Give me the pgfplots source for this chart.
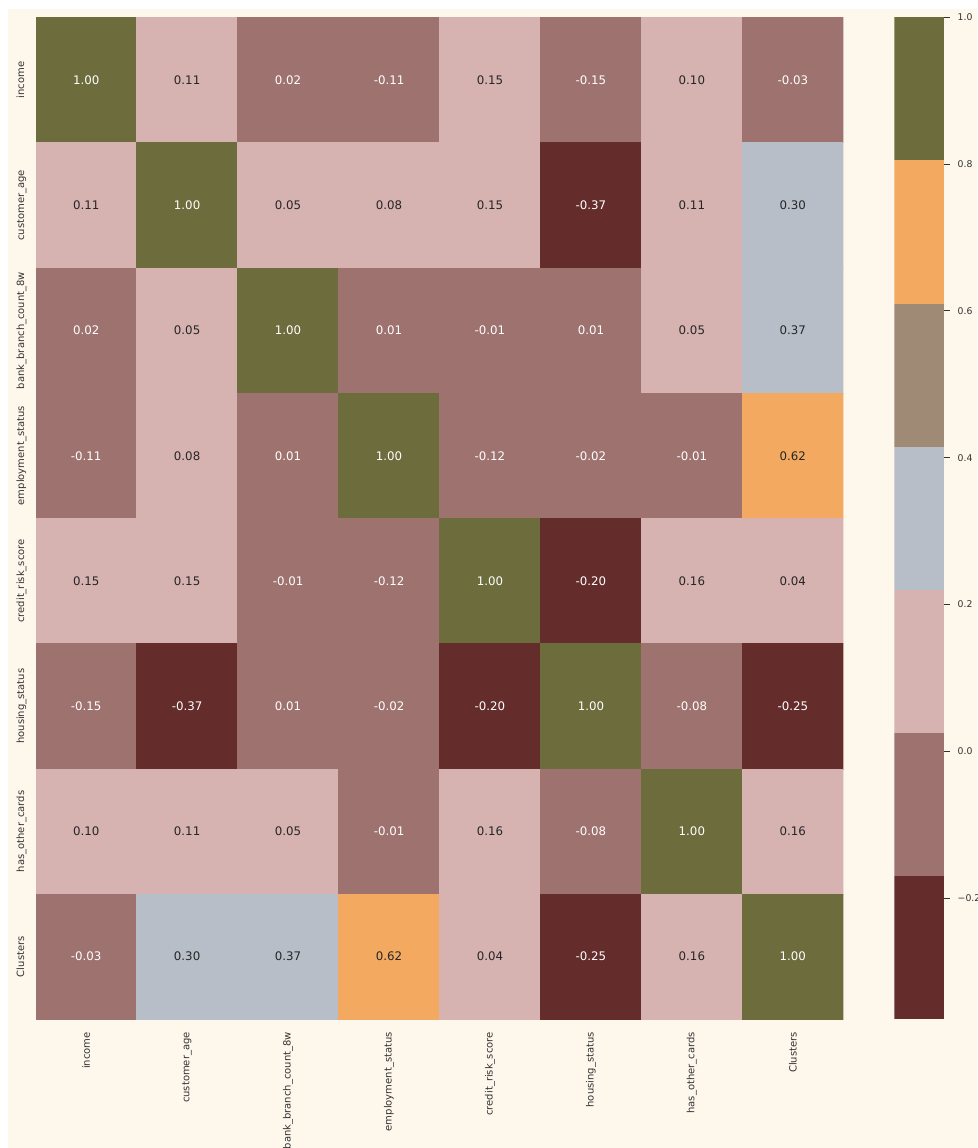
\documentclass[border=0pt]{standalone}
\usepackage{pgfplots}
\usepackage{pgfplotstable}
\pgfplotsset{compat=1.18}
\usepackage{fontspec}
\setmainfont{DejaVu Sans}
\definecolor{cmaroon}{RGB}{101,44,44}
\definecolor{cmauve}{RGB}{158,114,110}
\definecolor{cpink}{RGB}{214,178,176}
\definecolor{cgrey}{RGB}{184,190,200}
\definecolor{ctaupe}{RGB}{159,138,117}
\definecolor{corange}{RGB}{243,170,96}
\definecolor{colive}{RGB}{108,108,60}
\definecolor{bgc}{RGB}{253,247,236}
\definecolor{anndark}{RGB}{38,38,38}
\definecolor{tickc}{RGB}{51,51,51}
\pgfplotstableread{
x y c
0 0 1.00
1 0 0.11
2 0 0.02
3 0 -0.11
4 0 0.15
5 0 -0.15
6 0 0.10
7 0 -0.03
0 1 0.11
1 1 1.00
2 1 0.05
3 1 0.08
4 1 0.15
5 1 -0.37
6 1 0.11
7 1 0.30
0 2 0.02
1 2 0.05
2 2 1.00
3 2 0.01
4 2 -0.01
5 2 0.01
6 2 0.05
7 2 0.37
0 3 -0.11
1 3 0.08
2 3 0.01
3 3 1.00
4 3 -0.12
5 3 -0.02
6 3 -0.01
7 3 0.62
0 4 0.15
1 4 0.15
2 4 -0.01
3 4 -0.12
4 4 1.00
5 4 -0.20
6 4 0.16
7 4 0.04
0 5 -0.15
1 5 -0.37
2 5 0.01
3 5 -0.02
4 5 -0.20
5 5 1.00
6 5 -0.08
7 5 -0.25
0 6 0.10
1 6 0.11
2 6 0.05
3 6 -0.01
4 6 0.16
5 6 -0.08
6 6 1.00
7 6 0.16
0 7 -0.03
1 7 0.30
2 7 0.37
3 7 0.62
4 7 0.04
5 7 -0.25
6 7 0.16
7 7 1.00
}\corr
\begin{document}
\begin{tikzpicture}
\fill[white] (0pt,0pt) rectangle (977pt,1148pt);
\fill[bgc] (8pt,0pt) rectangle (977pt,1139pt);
\begin{axis}[
  at={(35.7pt,128.7pt)}, anchor=south west,
  scale only axis, width=807.6pt, height=1002pt,
  xmin=-0.5, xmax=7.5, ymin=-0.5, ymax=7.5, y dir=reverse,
  axis line style={draw=none},
  xtick={0,...,7}, ytick={0,...,7},
  xticklabels={income,customer\_age,bank\_branch\_count\_8w,employment\_status,credit\_risk\_score,housing\_status,has\_other\_cards,Clusters},
  yticklabels={income,customer\_age,bank\_branch\_count\_8w,employment\_status,credit\_risk\_score,housing\_status,has\_other\_cards,Clusters},
  major tick length=0pt, tick style={draw=none},
  tick label style={font=\fontsize{10}{12}\selectfont, text=tickc},
  xticklabel style={yshift=-12.7pt, rotate=90, anchor=east, inner sep=0pt},
  yticklabel style={xshift=-8.9pt, rotate=90, anchor=south, inner sep=0pt, text depth=2.5pt},
  colormap={corrmap}{color=(cmaroon) color=(cmauve) color=(cpink) color=(cgrey) color=(ctaupe) color=(corange) color=(colive)},
  colormap access=piecewise constant,
  point meta min=-0.365, point meta max=1,
  unbounded coords=discard,
  every node near coord/.append style={font=\fontsize{11.8}{14}\selectfont, anchor=center},
]
\addplot[matrix plot*, point meta=explicit, mesh/cols=8, draw=none] table[x=x, y=y, meta=c] {\corr};
\addplot[only marks, mark=none, point meta=explicit,
  y filter/.expression={(\thisrow{c}<0.025 || \thisrow{c}>0.805) ? y : nan},
  nodes near coords={\pgfmathprintnumber[fixed,fixed zerofill,precision=2,assume math mode=true]{\pgfplotspointmeta}},
  every node near coord/.append style={text=white}]
  table[x=x, y=y, meta=c] {\corr};
\addplot[only marks, mark=none, point meta=explicit,
  y filter/.expression={(\thisrow{c}<0.025 || \thisrow{c}>0.805) ? nan : y},
  nodes near coords={\pgfmathprintnumber[fixed,fixed zerofill,precision=2,assume math mode=true]{\pgfplotspointmeta}},
  every node near coord/.append style={text=anndark}]
  table[x=x, y=y, meta=c] {\corr};
\end{axis}
\begin{axis}[
  at={(894.3pt,128.7pt)}, anchor=south west,
  scale only axis, width=49.7pt, height=1002pt,
  xmin=0, xmax=1, ymin=-0.365, ymax=1,
  axis line style={draw=none},
  xtick=\empty,
  ytick={-0.2,0,0.2,0.4,0.6,0.8,1.0},
  yticklabels={−0.2,0.0,0.2,0.4,0.6,0.8,1.0},
  ytick pos=right, yticklabel pos=right,
  tick align=outside, major tick length=5.5pt,
  ytick style={draw=tickc, line width=0.9pt},
  yticklabel style={font=\fontsize{9.3}{11}\selectfont, text=tickc, anchor=west, inner sep=0pt, xshift=8pt},
]
\addplot[draw=none, fill=cmaroon] coordinates {(0,-0.365) (1,-0.365) (1,-0.17) (0,-0.17)} -- cycle;
\addplot[draw=none, fill=cmauve] coordinates {(0,-0.17) (1,-0.17) (1,0.025) (0,0.025)} -- cycle;
\addplot[draw=none, fill=cpink] coordinates {(0,0.025) (1,0.025) (1,0.22) (0,0.22)} -- cycle;
\addplot[draw=none, fill=cgrey] coordinates {(0,0.22) (1,0.22) (1,0.415) (0,0.415)} -- cycle;
\addplot[draw=none, fill=ctaupe] coordinates {(0,0.415) (1,0.415) (1,0.61) (0,0.61)} -- cycle;
\addplot[draw=none, fill=corange] coordinates {(0,0.61) (1,0.61) (1,0.805) (0,0.805)} -- cycle;
\addplot[draw=none, fill=colive] coordinates {(0,0.805) (1,0.805) (1,1) (0,1)} -- cycle;
\end{axis}
\pgfresetboundingbox
\path[use as bounding box] (0pt,0pt) rectangle (977pt,1148pt);
\end{tikzpicture}
\end{document}
